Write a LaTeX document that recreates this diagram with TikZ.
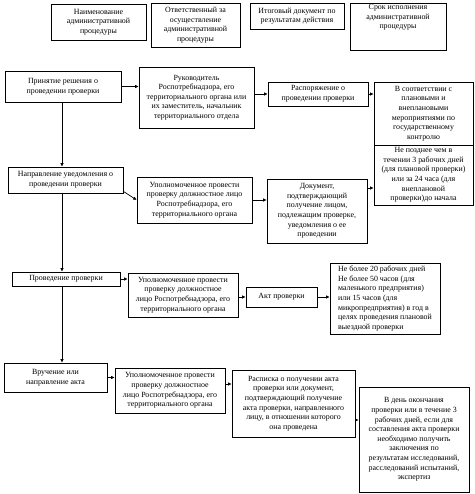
\documentclass[tikz,border=0pt]{standalone}
\usepackage{fontspec}
\setmainfont{Liberation Serif}
\usepackage{tikz}
\usetikzlibrary{arrows.meta, positioning, calc}

\tikzset{
  blk/.style={draw, line width=0.7pt, align=center, inner sep=1pt,
    font=\fontsize{7.9}{9.6}\selectfont},
  flow/.style={-{Latex[length=3.5pt,width=3.5pt]}, line width=0.7pt}
}

\begin{document}
\begin{tikzpicture}[x=1pt, y=-1pt]
				\useasboundingbox (0,0) rectangle (474,494);
				
				% Header
				\node[blk, minimum width=95pt, minimum height=36pt] (hname) at (98.5,22) {Наименование\\административной\\процедуры};
				\node[blk, minimum width=89pt, minimum height=44pt] (hresp) at (195.5,25) {Ответственный за\\осуществление\\административной\\процедуры};
				\node[blk, minimum width=94pt, minimum height=26pt] (hdoc) at (297,16) {Итоговый документ по\\результатам действия};
				\node[blk, minimum width=96pt, text depth=21pt, anchor=north] (hterm) at (398,3) {Срок исполнения\\административной\\процедуры};
				
				% Decision
				\node[blk, minimum width=116pt, minimum height=31pt] (decide) at (63,86.5) {Принятие решения о\\проведении проверки};
				\node[blk, minimum width=115pt, minimum height=61pt] (chief) at (196.5,97.5) {Руководитель\\Роспотребнадзора, его\\территориального органа или\\их заместитель, начальник\\территориального отдела};
				\node[blk, minimum width=100pt, minimum height=24pt] (order) at (318,94) {Распоряжение о\\проведении проверки};
				\node[blk, minimum width=99pt, minimum height=63pt] (plan) at (423.5,113.5) {В соответствии с\\плановыми и\\внеплановыми\\мероприятиями по\\государственному\\контролю};
				\node[blk, minimum width=99pt, minimum height=60pt] (notelim) at (423.5,175) {Не позднее чем в\\течении 3 рабочих дней\\(для плановой проверки)\\или за 24 часа (для\\внеплановой\\проверки)до начала};
				
				% Notice
				\node[blk, minimum width=115pt, minimum height=26pt] (notice) at (65.5,180) {Направление уведомления о\\проведении проверки};
				\node[blk, minimum width=115pt, minimum height=46pt] (offa) at (194.5,200) {Уполномоченное провести\\проверку должностное лицо\\Роспотребнадзора, его\\территориального органа};
				\node[blk, minimum width=100pt, minimum height=64pt] (receipt) at (317,211) {Документ,\\подтверждающий\\получение лицом,\\подлежащим проверке,\\уведомления о ее\\проведении};
				
				% Inspection
				\node[blk, minimum width=108pt, minimum height=14pt] (inspect) at (66,279) {Проведение проверки};
				\node[blk, minimum width=110pt, minimum height=44pt] (offb) at (183,295) {Уполномоченное провести\\проверку должностное\\лицо Роспотребнадзора, его\\территориального органа};
				\node[blk, minimum width=71pt, minimum height=20pt] (act) at (281.5,297) {Акт проверки};
				\node[blk, align=left, minimum width=110pt, minimum height=71pt] (actlim) at (385,298.5) {Не более 20 рабочих дней\\Не более 50 часов (для\\маленького предприятия)\\или 15 часов (для\\микропредприятия) в год в\\целях проведения плановой\\выездной проверки};
				
				% Delivery
				\node[blk, minimum width=103pt, minimum height=29pt] (deliver) at (55.5,377.5) {Вручение или\\направление акта};
				\node[blk, minimum width=110pt, minimum height=45pt] (offc) at (170,390.5) {Уполномоченное провести\\проверку должностное\\лицо Роспотребнадзора, его\\территориального органа};
				\node[blk, minimum width=123pt, minimum height=67pt] (signed) at (293.5,403.5) {Расписка о получении акта\\проверки или документ,\\подтверждающий получение\\акта проверки, направленного\\лицу, в отношении которого\\она проведена};
				\node[blk, minimum width=110pt, minimum height=105pt] (dellim) at (414,439.5) {В день окончания\\проверки или в течение 3\\рабочих дней, если для\\составления акта проверки\\необходимо получить\\заключения по\\результатам исследований,\\расследований испытаний,\\экспертиз};
				
				% Main line
				\coordinate (spine) at (62,0);
				\draw[flow] (decide.south -| spine) -- (notice.north -| spine);
				\draw[flow] (notice.south -| spine) -- (inspect.north -| spine);
				\draw[flow] (inspect.south -| spine) -- (deliver.north -| spine);
				
				% Side arrows
				\draw[flow] (decide.east) -- (decide.east -| chief.west);
				\draw[flow] (chief.east |- order.west) -- (order.west);
				\draw[flow] (order.east) -- (order.east -| plan.west);
				\draw[flow] ([yshift=2pt]notice.south east) -- (offa.west);
				\draw[flow] (offa.east) -- (offa.east -| receipt.west);
				\draw[flow] (receipt.east |- 0,188) -- (notelim.west |- 0,188);
				\draw[flow] (inspect.east) -- (inspect.east -| offb.west);
				\draw[flow] (offb.east |- act.west) -- (act.west);
				\draw[flow] (act.east) -- (act.east -| actlim.west);
				\draw[flow] (deliver.east) -- (deliver.east -| offc.west);
				\draw[flow] (offc.east |- 0,384) -- (signed.west |- 0,384);
				\draw[flow] (signed.east |- 0,420) -- (dellim.west |- 0,420);
			\end{tikzpicture}
\end{document}
